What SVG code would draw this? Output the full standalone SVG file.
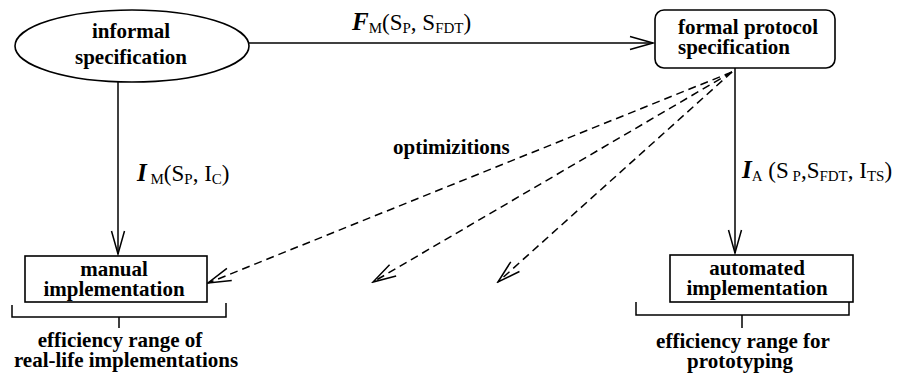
<svg xmlns="http://www.w3.org/2000/svg" width="903" height="376" viewBox="0 0 903 376">
<defs>
<style>
.t{font-family:"Liberation Serif","Times New Roman",serif;font-weight:bold;font-size:21px;fill:#000}
.m{font-family:"Liberation Serif","Times New Roman",serif;font-size:23px;fill:#000}
.s{font-size:15px}
.bi{font-weight:bold;font-style:italic;font-size:25px}
.ln{stroke:#000;stroke-width:1.5;fill:none}
.d{stroke-dasharray:8 5}
.shape{fill:#fff;stroke:#000;stroke-width:1.6}
</style>
<marker id="arr" markerUnits="userSpaceOnUse" viewBox="-24 -8 26 16" markerWidth="26" markerHeight="16" refX="0" refY="0" orient="auto">
<path d="M-23,-6.5 L0,0 L-23,6.5" fill="none" stroke="#000" stroke-width="1.5"/>
</marker>
</defs>
<g id="connectors">
<line class="ln" x1="249" y1="43" x2="653" y2="43" marker-end="url(#arr)"/>
<line class="ln" x1="118" y1="82" x2="118" y2="254" marker-end="url(#arr)"/>
<line class="ln" x1="735" y1="68" x2="735" y2="253" marker-end="url(#arr)"/>
<line class="ln d" x1="732" y1="72" x2="208" y2="283" marker-end="url(#arr)"/>
<line class="ln d" x1="732" y1="72" x2="373" y2="282" marker-end="url(#arr)"/>
<line class="ln d" x1="732" y1="72" x2="498" y2="282" marker-end="url(#arr)"/>
<text class="m" x="352" y="30"><tspan class="bi">F</tspan><tspan class="s" dy="3">M</tspan><tspan dy="-3">(S</tspan><tspan class="s" dy="3">P</tspan><tspan dy="-3">, S</tspan><tspan class="s" dy="3">FDT</tspan><tspan dy="-3">)</tspan></text>
<text class="m" x="137" y="181"><tspan class="bi">I</tspan><tspan class="s" dy="3"> M</tspan><tspan dy="-3">(S</tspan><tspan class="s" dy="3">P</tspan><tspan dy="-3">, I</tspan><tspan class="s" dy="3">C</tspan><tspan dy="-3">)</tspan></text>
<text class="m" x="742" y="178"><tspan class="bi">I</tspan><tspan class="s" dy="3">A</tspan><tspan dy="-3"> (S</tspan><tspan class="s" dy="3"> P</tspan><tspan dy="-3">,S</tspan><tspan class="s" dy="3">FDT</tspan><tspan dy="-3">, I</tspan><tspan class="s" dy="3">TS</tspan><tspan dy="-3">)</tspan></text>
<text class="t" x="393" y="154">optimizitions</text>
</g>
<g id="informal">
<ellipse class="shape" cx="132" cy="46" rx="117" ry="36"/>
<text class="t" x="131" y="38" text-anchor="middle">informal</text>
<text class="t" x="131" y="64" text-anchor="middle">specification</text>
</g>
<g id="formal">
<rect class="shape" x="655" y="10" width="180" height="58" rx="9"/>
<text class="t" x="678" y="34">formal protocol</text>
<text class="t" x="678" y="54">specification</text>
</g>
<g id="manual">
<rect class="shape" x="25" y="256" width="182" height="46"/>
<text class="t" x="114" y="276" text-anchor="middle">manual</text>
<text class="t" x="114" y="296" text-anchor="middle">implementation</text>
</g>
<g id="automated">
<rect class="shape" x="670" y="255" width="183" height="47"/>
<text class="t" x="757" y="275" text-anchor="middle">automated</text>
<text class="t" x="757" y="295" text-anchor="middle">implementation</text>
</g>
<g id="range-real">
<path class="ln" d="M12,305 V317 H226 V303 M119,317 V328"/>
<text class="t" x="120" y="347" text-anchor="middle">efficiency range of</text>
<text class="t" x="126" y="367" text-anchor="middle">real-life implementations</text>
</g>
<g id="range-proto">
<path class="ln" d="M636,302 V315 H849 V302 M742,315 V328"/>
<text class="t" x="743" y="348" text-anchor="middle">efficiency range for</text>
<text class="t" x="740" y="368" text-anchor="middle">prototyping</text>
</g>
</svg>
